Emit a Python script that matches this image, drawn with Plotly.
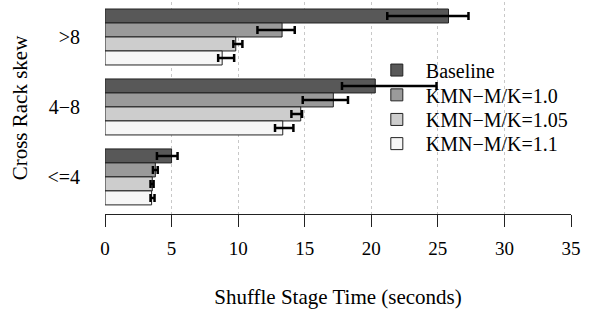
import plotly.graph_objects as go

categories = [">8", "4\u22128", "<=4"]
series = ["Baseline", "KMN\u2212M/K=1.0", "KMN\u2212M/K=1.05", "KMN\u2212M/K=1.1"]
values = {
    "Baseline": [25.8, 20.3, 5.0],
    "KMN\u2212M/K=1.0": [13.3, 17.15, 3.78],
    "KMN\u2212M/K=1.05": [9.82, 14.7, 3.55],
    "KMN\u2212M/K=1.1": [8.8, 13.35, 3.5],
}
err_low = {
    "Baseline": [21.2, 17.8, 3.9],
    "KMN\u2212M/K=1.0": [11.45, 14.85, 3.6],
    "KMN\u2212M/K=1.05": [9.64, 14.0, 3.42],
    "KMN\u2212M/K=1.1": [8.5, 12.77, 3.42],
}
err_high = {
    "Baseline": [27.3, 24.9, 5.45],
    "KMN\u2212M/K=1.0": [14.25, 18.25, 3.96],
    "KMN\u2212M/K=1.05": [10.32, 14.8, 3.65],
    "KMN\u2212M/K=1.1": [9.7, 14.15, 3.72],
}
colors = ["#585858", "#9a9a9a", "#cdcdcd", "#f6f6f6"]
x_ticks = [0, 5, 10, 15, 20, 25, 30, 35]

FONT = "Liberation Serif"
legend_ids = ["legend", "legend2", "legend3", "legend4"]
legend_y = [0.679, 0.562, 0.446, 0.332]

fig = go.Figure()
for name, col, lid in zip(series, colors, legend_ids):
    v = values[name]
    plus = [h - m for h, m in zip(err_high[name], v)]
    minus = [m - l for m, l in zip(v, err_low[name])]
    fig.add_trace(go.Bar(
        name=name, y=categories, x=v, orientation="h", legend=lid,
        marker=dict(color=col, line=dict(color="#222222", width=1)),
        error_x=dict(type="data", symmetric=False, array=plus, arrayminus=minus,
                     color="black", thickness=2.5, width=4),
    ))

legend_layout = {}
for lid, ly in zip(legend_ids, legend_y):
    legend_layout[lid] = dict(x=0.564, y=ly, xanchor="left", yanchor="middle",
                              bgcolor="rgba(0,0,0,0)",
                              font=dict(family=FONT, size=20),
                              itemwidth=48)

fig.update_layout(
    width=592, height=316,
    margin=dict(l=105, r=21, t=2, b=102),
    barmode="group", bargap=0.2, bargroupgap=0,
    plot_bgcolor="white", paper_bgcolor="white",
    font=dict(family=FONT, size=20, color="black"),
    showlegend=True,
    xaxis=dict(range=[0, 35], tickvals=x_ticks, showgrid=True,
               gridcolor="#c8c8c8", griddash="dot", gridwidth=1,
               showline=True, linecolor="#222222", linewidth=1.2,
               ticks="outside", ticklen=12, tickcolor="#222222", tickwidth=1.2,
               ticklabelstandoff=5, zeroline=False,
               tickfont=dict(family=FONT, size=19),
               title=dict(text="Shuffle Stage Time (seconds)", standoff=31,
                          font=dict(family=FONT, size=21))),
    yaxis=dict(categoryorder="array", categoryarray=categories,
               range=[2.53, -0.5], showgrid=False, showline=False,
               ticks="", ticklabelstandoff=24, zeroline=False,
               tickfont=dict(family=FONT, size=20),
               title=dict(text="Cross Rack skew", standoff=14,
                          font=dict(family=FONT, size=21))),
    **legend_layout,
)

fig.write_html("out.html", config={"displayModeBar": False},
               post_script="document.body.style.margin='0px';")
